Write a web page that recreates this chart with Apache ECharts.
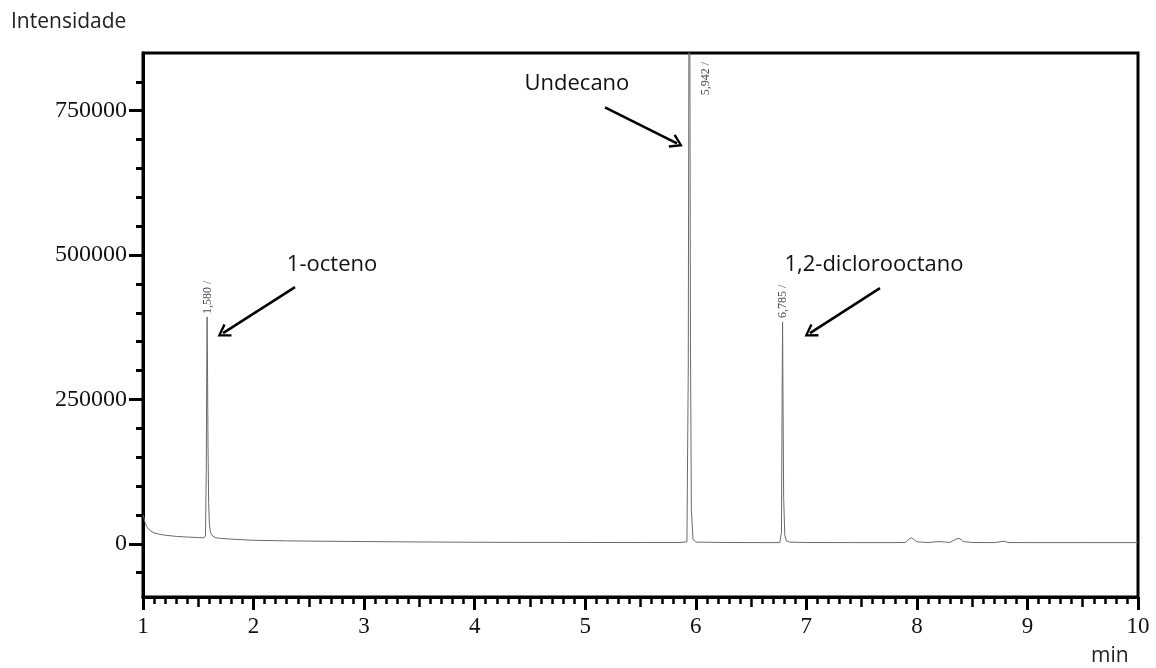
<!DOCTYPE html>
<html>
<head>
<meta charset="utf-8">
<script src="https://cdn.jsdelivr.net/npm/echarts@6/dist/echarts.min.js"></script>
<style>
  html, body { margin: 0; padding: 0; background: #fff; }
  #chart { width: 1156px; height: 668px; }
</style>
</head>
<body>
<div id="chart"></div>
<script>
// tempo de retenção (min)
const retentionTimes = [
  1.00, 1.01, 1.02, 1.04, 1.07, 1.10, 1.15, 1.20, 1.30, 1.40, 1.50, 1.55,
  1.565, 1.572, 1.576, 1.580, 1.584, 1.588, 1.594, 1.60, 1.61, 1.63, 1.66, 1.70, 1.80,
  2.0, 2.3, 2.6, 3.0, 3.5, 4.0, 4.5, 5.0, 5.5, 5.85,
  5.92, 5.932, 5.938, 5.942, 5.946, 5.952, 5.96, 5.975, 6.0, 6.3, 6.6,
  6.76, 6.775, 6.781, 6.785, 6.789, 6.795, 6.805, 6.82, 6.85, 7.0, 7.4, 7.8,
  7.90, 7.93, 7.95, 7.97, 8.0, 8.1, 8.2, 8.25, 8.3, 8.35, 8.38, 8.40, 8.42, 8.5,
  8.7, 8.78, 8.8, 8.83, 9.0, 9.5, 10.0
];
// intensidade
const intensities = [
  50000, 44000, 36000, 28000, 22000, 19000, 16500, 15000, 13000, 11800, 11000, 10500,
  14000, 120000, 280000, 393000, 290000, 170000, 70000, 35000, 20000, 13500, 10500, 9500, 8200,
  6200, 5200, 4600, 4000, 3300, 2800, 2500, 2400, 2300, 2300,
  3500, 300000, 900000, 1150000, 900000, 350000, 60000, 8000, 3000, 2300, 2200,
  2200, 20000, 250000, 384000, 250000, 80000, 15000, 5000, 3000, 2300, 2200, 2200,
  2500, 8500, 10500, 8000, 3500, 2300, 4000, 3200, 2600, 8000, 9500, 7500, 4000, 2300,
  2200, 4500, 3800, 2300, 2200, 2200, 2200
];

const peakRt = [1.580, 5.942, 6.785];
const peakLabels = ['1,580 /', '5,942 /', '6,785 /'];
const compounds = ['1-octeno', 'Undecano', '1,2-diclorooctano'];

const yMajorTicks = [0, 250000, 500000, 750000];
const yMinorTicks = [-50000, 0, 50000, 100000, 150000, 200000, 250000, 300000, 350000, 400000,
  450000, 500000, 550000, 600000, 650000, 700000, 750000, 800000];

const chart = echarts.init(document.getElementById('chart'));

const serif = 'Liberation Serif';
const sans = 'Open Sans';
const chevron = 'path://M5,0 L10,9 L8.6,10 L5,3.2 L1.4,10 L0,9 Z';

// posições das anotações em coordenadas de dados
const peakLabelAnchors = [
  [peakRt[0] + 0.008, 398000],
  [peakRt[1] + 0.15, 777000],
  [peakRt[2] + 0.004, 391000]
];
const nameAnchors = [[2.71, 482700], [4.925, 797500], [7.612, 482700]];
const arrows = [
  [[2.375, 444600], [1.724, 365000]],
  [[5.179, 756000], [5.830, 693700]],
  [[7.666, 442900], [7.033, 365000]]
];

const option = {
  animation: false,
  backgroundColor: '#fff',
  title: [
    {
      text: 'Intensidade', left: 6, top: 7,
      textStyle: { fontFamily: sans, fontSize: 21, fontWeight: 'normal', color: '#222' }
    },
    {
      text: 'min', left: 1086, top: 641,
      textStyle: { fontFamily: sans, fontSize: 21, fontWeight: 'normal', color: '#222' }
    }
  ],
  grid: {
    left: 143, right: 18, top: 53, bottom: 71,
    show: true, borderColor: '#000', borderWidth: 3
  },
  xAxis: [
    {
      type: 'value', min: 1, max: 10, interval: 1,
      axisLine: { onZero: false, lineStyle: { color: '#000', width: 3 } },
      axisTick: { length: 13, lineStyle: { color: '#000', width: 3 } },
      minorTick: { show: true, splitNumber: 10, length: 7, lineStyle: { color: '#000', width: 2.5 } },
      splitLine: { show: false },
      axisLabel: { fontFamily: serif, fontSize: 23, color: '#111', margin: 18 }
    },
    {
      type: 'value', min: 1, max: 10, interval: 0.5, position: 'bottom',
      axisLine: { show: false, onZero: false },
      axisTick: { length: 10, lineStyle: { color: '#000', width: 2.5 } },
      splitLine: { show: false },
      axisLabel: { show: false }
    }
  ],
  yAxis: [
    {
      type: 'value', min: -92000, max: 850000, position: 'left',
      axisLine: { show: true, onZero: false, lineStyle: { color: '#000', width: 3 } },
      axisTick: { show: true, length: 14, customValues: yMajorTicks, lineStyle: { color: '#000', width: 3 } },
      splitLine: { show: false },
      axisLabel: {
        customValues: yMajorTicks, formatter: v => String(v),
        fontFamily: serif, fontSize: 24, color: '#111', margin: 16
      }
    },
    {
      type: 'value', min: -92000, max: 850000, position: 'left',
      axisLine: { show: false, onZero: false },
      axisTick: { show: true, length: 7, customValues: yMinorTicks, lineStyle: { color: '#000', width: 3 } },
      splitLine: { show: false },
      axisLabel: { show: false }
    }
  ],
  series: [
    {
      type: 'line',
      xAxisIndex: 0,
      yAxisIndex: 0,
      data: retentionTimes.map((t, i) => [t, intensities[i]]),
      showSymbol: false,
      symbol: 'none',
      lineStyle: { color: '#6a6a6a', width: 1 },
      silent: true,
      markPoint: {
        silent: true,
        symbol: 'circle',
        symbolSize: 0,
        data: [
          ...peakLabels.map((txt, i) => ({
            coord: peakLabelAnchors[i],
            label: {
              show: true, formatter: txt, position: [0, 0], rotate: 90,
              align: 'left', verticalAlign: 'middle',
              fontFamily: serif, fontSize: 12, color: '#4a4a55'
            }
          })),
          ...compounds.map((txt, i) => ({
            coord: nameAnchors[i],
            label: {
              show: true, formatter: txt, position: [0, 0],
              align: 'center', verticalAlign: 'middle',
              fontFamily: sans, fontSize: 22, color: '#111'
            }
          }))
        ]
      },
      markLine: {
        silent: true,
        symbol: ['none', chevron],
        symbolSize: [15, 13],
        label: { show: false },
        lineStyle: { color: '#000', width: 2.5, type: 'solid' },
        data: arrows.map(a => [{ coord: a[0] }, { coord: a[1] }])
      }
    }
  ]
};

chart.setOption(option);
window.addEventListener('resize', () => chart.resize());
</script>
</body>
</html>
